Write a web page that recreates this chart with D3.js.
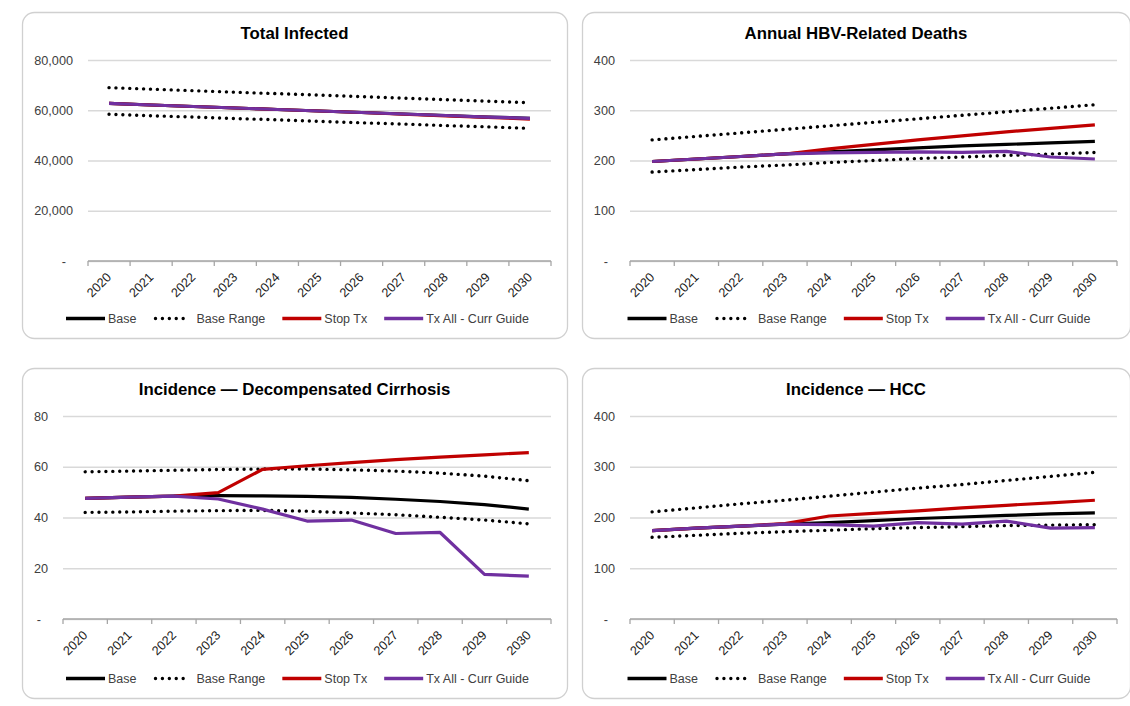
<!DOCTYPE html>
<html>
<head>
<meta charset="utf-8">
<script src="https://cdn.jsdelivr.net/npm/d3@7"></script>
<style>
  html, body { margin: 0; padding: 0; background: #fff; }
  svg { display: block; font-family: "Liberation Sans", Arial, sans-serif; }
</style>
</head>
<body>
<svg id="chart" width="1130" height="706"></svg>
<script>
// ---- data ----
const years = [2020, 2021, 2022, 2023, 2024, 2025, 2026, 2027, 2028, 2029, 2030];
const seriesNames = ['Base', 'Base Range', 'Stop Tx', 'Tx All - Curr Guide'];
const titles = ['Total Infected', 'Annual HBV-Related Deaths',
                'Incidence \u2014 Decompensated Cirrhosis', 'Incidence \u2014 HCC'];

// Total Infected
const infBase  = [62700, 62100, 61500, 60900, 60300, 59700, 59100, 58500, 57900, 57300, 56800];
const infHigh  = [69000, 68400, 67800, 67200, 66600, 66000, 65400, 64800, 64200, 63600, 63000];
const infLow   = [58400, 57800, 57300, 56700, 56200, 55600, 55000, 54500, 53900, 53400, 52800];
const infStop  = [62700, 62100, 61500, 60900, 60300, 59700, 59100, 58400, 57800, 57200, 56500];
const infTxAll = [62700, 62100, 61500, 60900, 60300, 59700, 59100, 58500, 57900, 57300, 56800];
const infTicks = [0, 20000, 40000, 60000, 80000];

// Annual HBV-related deaths
const dthBase  = [198, 203, 208, 213, 217, 221, 225, 229, 232, 235, 238];
const dthHigh  = [241, 248, 255, 262, 269, 276, 283, 290, 297, 304, 311];
const dthLow   = [177, 182, 187, 191, 196, 200, 204, 207, 210, 213, 216];
const dthStop  = [198, 203, 208, 213, 223, 232, 241, 249, 257, 264, 271];
const dthTxAll = [198, 203, 208, 213, 215, 216, 217, 216, 218, 207, 203];
const dthTicks = [0, 100, 200, 300, 400];

// Incidence - decompensated cirrhosis
const dcBase  = [47.5, 48.0, 48.4, 48.6, 48.5, 48.3, 47.9, 47.2, 46.3, 45.1, 43.3];
const dcHigh  = [58.0, 58.3, 58.6, 58.9, 59.1, 59.1, 58.8, 58.3, 57.5, 56.3, 54.5];
const dcLow   = [42.0, 42.2, 42.5, 42.7, 42.8, 42.5, 41.8, 41.1, 40.1, 39.0, 37.5];
const dcStop  = [47.5, 48.0, 48.4, 49.8, 59.0, 60.4, 61.6, 62.8, 63.8, 64.7, 65.6];
const dcTxAll = [47.5, 48.0, 48.4, 47.3, 43.3, 38.6, 39.0, 33.7, 34.1, 17.6, 16.9];
const dcTicks = [0, 20, 40, 60, 80];

// Incidence - HCC
const hccBase  = [174, 179, 183, 187, 190, 194, 198, 201, 204, 207, 209];
const hccHigh  = [211, 219, 227, 234, 242, 250, 258, 265, 273, 281, 289];
const hccLow   = [161, 165, 169, 172, 175, 178, 180, 182, 184, 185, 186];
const hccStop  = [174, 179, 183, 188, 203, 208, 213, 219, 224, 229, 234];
const hccTxAll = [174, 179, 183, 187, 186, 183, 190, 187, 193, 179, 180];
const hccTicks = [0, 100, 200, 300, 400];

// ---- layout / styles ----
const boxes = [
  { x: 22,  y: 12,  w: 545, h: 326, l: 88,  r: 551,  t: 60,  b: 261 },
  { x: 582, y: 12,  w: 548, h: 326, l: 630, r: 1117, t: 60,  b: 261 },
  { x: 22,  y: 368, w: 545, h: 330, l: 63,  r: 551,  t: 416, b: 619 },
  { x: 582, y: 368, w: 548, h: 330, l: 630, r: 1117, t: 416, b: 619 }
];
const colors = { base: '#000000', range: '#000000', stop: '#c00000', tx: '#7030a0' };

const panels = [
  { title: titles[0], ticks: infTicks, fmt: d3.format(','), base: infBase, high: infHigh, low: infLow, stop: infStop, tx: infTxAll },
  { title: titles[1], ticks: dthTicks, fmt: d3.format('d'), base: dthBase, high: dthHigh, low: dthLow, stop: dthStop, tx: dthTxAll },
  { title: titles[2], ticks: dcTicks,  fmt: d3.format('d'), base: dcBase,  high: dcHigh,  low: dcLow,  stop: dcStop,  tx: dcTxAll },
  { title: titles[3], ticks: hccTicks, fmt: d3.format('d'), base: hccBase, high: hccHigh, low: hccLow, stop: hccStop, tx: hccTxAll }
];

const svg = d3.select('#chart');

panels.forEach((p, i) => {
  const box = boxes[i];
  const g = svg.append('g');

  // panel frame
  g.append('rect')
      .attr('x', box.x + 0.5).attr('y', box.y + 0.5)
      .attr('width', box.w).attr('height', box.h)
      .attr('rx', 12).attr('ry', 12)
      .attr('fill', '#fff')
      .attr('stroke', '#d0d0d0')
      .attr('stroke-width', 1.3);

  // title
  g.append('text')
      .attr('x', box.x + box.w / 2)
      .attr('y', box.y + 27)
      .attr('text-anchor', 'middle')
      .attr('font-size', '16.8px')
      .attr('font-weight', 'bold')
      .attr('fill', '#000')
      .text(p.title);

  const x = d3.scaleBand().domain(years).range([box.l, box.r]).padding(0);
  const y = d3.scaleLinear()
      .domain([0, p.ticks[p.ticks.length - 1]])
      .range([box.b, box.t]);

  // y axis: gridlines + labels
  const yAxis = g.append('g')
      .attr('transform', `translate(${box.l},0)`)
      .call(d3.axisLeft(y)
        .tickValues(p.ticks)
        .tickSize(-(box.r - box.l))
        .tickPadding(15)
        .tickFormat(d => d === 0 ? '-' : p.fmt(d)));
  yAxis.select('.domain').remove();
  yAxis.selectAll('.tick line')
      .attr('stroke', '#d9d9d9')
      .attr('stroke-width', 1.5);
  yAxis.selectAll('.tick text')
      .attr('font-size', '12.7px')
      .attr('font-family', '"Liberation Sans", Arial, sans-serif')
      .attr('fill', '#404040')
      .attr('dx', d => d === 0 ? -7 : 0);

  // x axis line and category boundary ticks
  const bounds = years.map(d => x(d)).concat([x.range()[1]]);
  g.append('line')
      .attr('x1', box.l).attr('x2', box.r)
      .attr('y1', y(0)).attr('y2', y(0))
      .attr('stroke', '#a6a6a6').attr('stroke-width', 1.5);
  g.selectAll('.btick')
      .data(bounds)
      .join('line')
      .attr('class', 'btick')
      .attr('x1', d => d).attr('x2', d => d)
      .attr('y1', y(0)).attr('y2', y(0) + 5)
      .attr('stroke', '#a6a6a6').attr('stroke-width', 1.3);

  // x axis labels (rotated)
  const xAxis = g.append('g')
      .attr('transform', `translate(0,${box.b})`)
      .call(d3.axisBottom(x).tickSize(0).tickSizeOuter(0).tickFormat(d => d));
  xAxis.select('.domain').remove();
  xAxis.selectAll('.tick text')
      .attr('font-size', '12.7px')
      .attr('font-family', '"Liberation Sans", Arial, sans-serif')
      .attr('fill', '#1a1a1a')
      .attr('text-anchor', 'end')
      .attr('dy', null)
      .attr('y', 0)
      .attr('transform', 'translate(3,17) rotate(-45)');

  // lines
  const cx = d => x(d) + x.bandwidth() / 2;
  const line = vals => d3.line()
      .x((d, j) => cx(years[j]))
      .y(d => y(d))(vals);

  const plot = g.append('g').attr('fill', 'none');
  [p.high, p.low].forEach(vals => {
    plot.append('path')
        .attr('d', line(vals))
        .attr('stroke', colors.range)
        .attr('stroke-width', 3.4)
        .attr('stroke-linecap', 'round')
        .attr('stroke-dasharray', '0.01 6.9');
  });
  plot.append('path').attr('d', line(p.base))
      .attr('stroke', colors.base).attr('stroke-width', 3.2).attr('stroke-linejoin', 'round');
  plot.append('path').attr('d', line(p.stop))
      .attr('stroke', colors.stop).attr('stroke-width', 3.2).attr('stroke-linejoin', 'round');
  plot.append('path').attr('d', line(p.tx))
      .attr('stroke', colors.tx).attr('stroke-width', 3.2).attr('stroke-linejoin', 'round');

  // legend
  const legendY = box.y + box.h - 19.5;
  const leg = g.append('g');
  const styles = [
    { c: colors.base, dash: null },
    { c: colors.range, dash: '0.01 6.9' },
    { c: colors.stop, dash: null },
    { c: colors.tx, dash: null }
  ];
  let cur = 0;
  seriesNames.forEach((name, k) => {
    const item = leg.append('g').attr('transform', `translate(${cur},0)`);
    const sample = item.append('line')
        .attr('x1', styles[k].dash ? 2 : 0)
        .attr('x2', styles[k].dash ? 36 : 39)
        .attr('y1', 0).attr('y2', 0)
        .attr('stroke', styles[k].c)
        .attr('stroke-width', styles[k].dash ? 3.4 : 3.5);
    if (styles[k].dash) {
      sample.attr('stroke-dasharray', styles[k].dash).attr('stroke-linecap', 'round');
    }
    const t = item.append('text')
        .attr('x', styles[k].dash ? 43 : 42)
        .attr('y', 0)
        .attr('dy', '0.35em')
        .attr('font-size', '12.5px')
        .attr('fill', '#404040')
        .text(name);
    cur += (styles[k].dash ? 43 : 42) + t.node().getComputedTextLength() + 17;
  });
  const legW = cur - 17;
  leg.attr('transform', `translate(${box.x + box.w / 2 + 3 - legW / 2},${legendY})`);
});
</script>
</body>
</html>
